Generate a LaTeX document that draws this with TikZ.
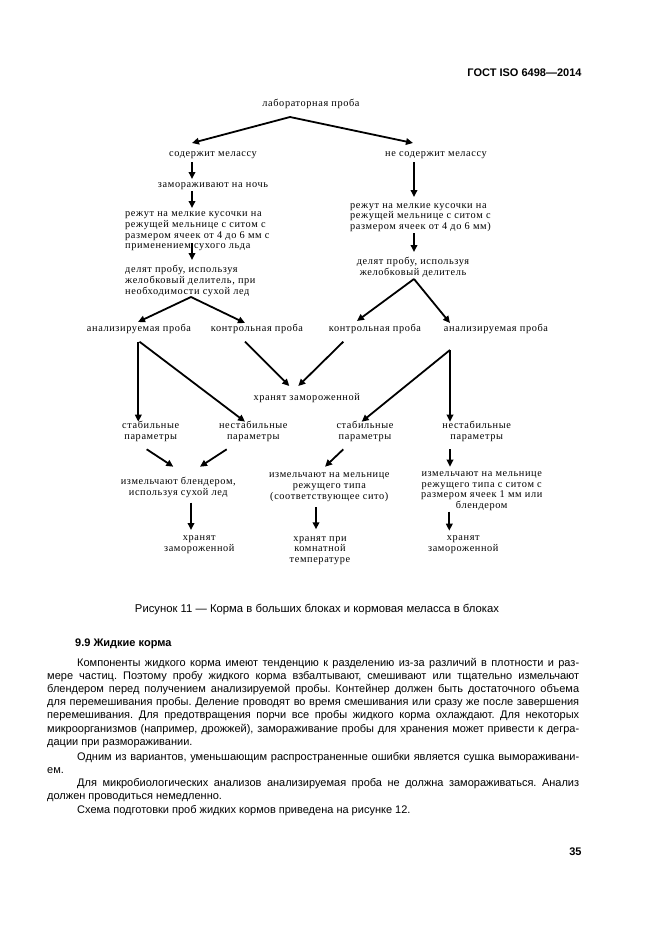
\documentclass[tikz,border=0pt]{standalone}
\usepackage{fontspec}
\setmainfont{Liberation Sans}
\newfontfamily\schemefont[LetterSpace=6]{Liberation Serif}
\usetikzlibrary{arrows.meta,calc}
\hyphenpenalty=10000
\exhyphenpenalty=10000
\frenchspacing

\begin{document}
\begin{tikzpicture}[x=1pt,y=-1pt,
    arr/.style={line width=1.8pt,-{Triangle[length=7pt,width=6.5pt]}},
    body/.style={font=\fontsize{11}{13.1}\selectfont,inner sep=0pt,
                 text width=532pt,align=justify,anchor=base west}]
  \path[fill=white] (0,0) rectangle (661,935);
  \useasboundingbox (0,0) rectangle (661,935);

  \node[font=\bfseries\fontsize{11}{13}\selectfont,anchor=east,inner sep=0pt] (head) at (581.7,72.7) {ГОСТ ISO 6498—2014};

  % scheme
  \begin{scope}[every node/.style={font=\schemefont\fontsize{10.3}{10.7}\selectfont,inner sep=0pt,align=center}]
    \node (lab) at (311,104) {лабораторная проба};
    \node (mel) at (213,155) {содержит мелассу};
    \node (nomel) at (436,155) {не содержит мелассу};
    \node (freeze) at (213,186) {замораживают на ночь};
    \node[anchor=west,align=left] (cutL) at (125,231.5) {режут на мелкие кусочки на\\режущей мельнице с ситом с\\размером ячеек от 4 до 6 мм с\\применением сухого льда};
    \node[anchor=west,align=left] (divL) at (125,281) {делят пробу, используя\\желобковый делитель, при\\необходимости сухой лед};
    \node[anchor=west,align=left] (cutR) at (350,217.5) {режут на мелкие кусочки на\\режущей мельнице с ситом с\\размером ячеек от 4 до 6 мм)};
    \node (divR) at (413,267) {делят пробу, используя\\желобковый делитель};
    \node (anL) at (139,329) {анализируемая проба};
    \node (ctL) at (257,329) {контрольная проба};
    \node (ctR) at (375,329) {контрольная проба};
    \node (anR) at (496,329) {анализируемая проба};
    \node (store) at (306.7,397.7) {хранят замороженной};
    \node (stL) at (150.7,431.7) {стабильные\\параметры};
    \node (unL) at (253.3,431.7) {нестабильные\\параметры};
    \node (stR) at (365,431.7) {стабильные\\параметры};
    \node (unR) at (476.7,431.7) {нестабильные\\параметры};
    \node (blend) at (178.3,487.2) {измельчают блендером,\\используя сухой лед};
    \node (millM) at (329.3,487.3) {измельчают на мельнице\\режущего типа\\(соответствующее сито)};
    \node (millR) at (481.7,491.2) {измельчают на мельнице\\режущего типа с ситом с\\размером ячеек 1 мм или\\блендером};
    \node (frL) at (199.3,544.7) {хранят\\замороженной};
    \node (room) at (320,550.5) {хранят при\\комнатной\\температуре};
    \node (frR) at (463.3,544.7) {хранят\\замороженной};
  \end{scope}

  \draw[arr] ($(lab)+(-21,13)$) -- ($(mel)+(-21,-12)$);
  \draw[arr] ($(lab)+(-21,13)$) -- ($(nomel)+(-23,-12)$);
  \draw[arr] ($(mel)+(-21,7)$) -- ($(freeze)+(-21,-7)$);
  \draw[arr] ($(freeze)+(-21,5)$) -- ($(cutL.west)+(67,-23.5)$);
  \draw[arr] ($(cutL.west)+(67,11.5)$) -- ($(divL.west)+(67,-21)$);
  \draw[arr] ($(nomel)+(-22,7)$) -- ($(cutR.west)+(64,-20.5)$);
  \draw[arr] ($(cutR.west)+(64,15.5)$) -- ($(divR)+(1,-15)$);
  \draw[arr] ($(divL.west)+(66,16)$) -- ($(anL)+(-1,-7)$);
  \draw[arr] ($(divL.west)+(66,16)$) -- ($(ctL)+(-12,-6)$);
  \draw[arr] ($(divR)+(1,12)$) -- ($(ctR)+(-18,-8)$);
  \draw[arr] ($(divR)+(1,12)$) -- ($(anR)+(-46,-6)$);
  \draw[arr] ($(anL)+(-0.7,12.7)$) -- ($(stL)+(-12.4,-10)$);
  \draw[arr] ($(anL)+(0.5,12.7)$) -- ($(unL)+(-8.3,-10)$);
  \draw[arr] ($(ctL)+(-12,12.7)$) -- ($(store)+(-17.4,-11.7)$);
  \draw[arr] ($(ctR)+(-31.7,12.7)$) -- ($(store)+(-8.4,-11.7)$);
  \draw[arr] ($(anR)+(-46,21)$) -- ($(stR)+(-3.3,-10)$);
  \draw[arr] ($(anR)+(-46,21)$) -- ($(unR)+(-26.7,-10)$);
  \draw[arr] ($(stL)+(-4,17.6)$) -- ($(blend)+(-5,-20.5)$);
  \draw[arr] ($(unL)+(-26.6,17.6)$) -- ($(blend)+(21.7,-20.5)$);
  \draw[arr] ($(stR)+(-21.7,17.6)$) -- ($(millM)+(-4.3,-20.6)$);
  \draw[arr] ($(unR)+(-26.7,17.6)$) -- ($(millR)+(-31.7,-24.5)$);
  \draw[arr] ($(blend)+(12.7,15.5)$) -- ($(frL)+(-8.3,-14.7)$);
  \draw[arr] ($(millM)+(-13.3,20)$) -- ($(room)+(-4,-21.2)$);
  \draw[arr] ($(millR)+(-32.4,20.5)$) -- ($(frR)+(-14,-14)$);

  % text of the page
  \node[font=\fontsize{11.3}{13}\selectfont,inner sep=0pt] (cap) at (317,610) {Рисунок 11 — Корма в больших блоках и кормовая меласса в блоках};
  \node[font=\bfseries\fontsize{11}{13}\selectfont,anchor=base west,inner sep=0pt] (sec) at (75,646.5) {9.9 Жидкие корма};
  \node[body] (p1) at (47,666.5) {\hspace*{30pt}Компоненты жидкого корма имеют тенденцию к разделению из-за различий в плотности и раз-\linebreak мере частиц. Поэтому пробу жидкого корма взбалтывают, смешивают или тщательно измельчают\linebreak блендером перед получением анализируемой пробы. Контейнер должен быть достаточного объема\linebreak для перемешивания пробы. Деление проводят во время смешивания или сразу же после завершения\linebreak перемешивания. Для предотвращения порчи все пробы жидкого корма охлаждают. Для некоторых\linebreak микроорганизмов (например, дрожжей), замораживание пробы для хранения может привести к дегра-\linebreak дации при размораживании.};
  \node[body] (p2) at (47,760) {\hspace*{30pt}Одним из вариантов, уменьшающим распространенные ошибки является сушка вымораживани-\linebreak ем.};
  \node[body] (p3) at (47,786.5) {\hspace*{30pt}Для микробиологических анализов анализируемая проба не должна замораживаться. Анализ\linebreak должен проводиться немедленно.};
  \node[body] (p4) at (47,813.5) {\hspace*{30pt}Схема подготовки проб жидких кормов приведена на рисунке 12.};
  \node[font=\bfseries\fontsize{11}{13}\selectfont,anchor=east,inner sep=0pt] (pnum) at (581.7,852) {35};
\end{tikzpicture}
\end{document}
